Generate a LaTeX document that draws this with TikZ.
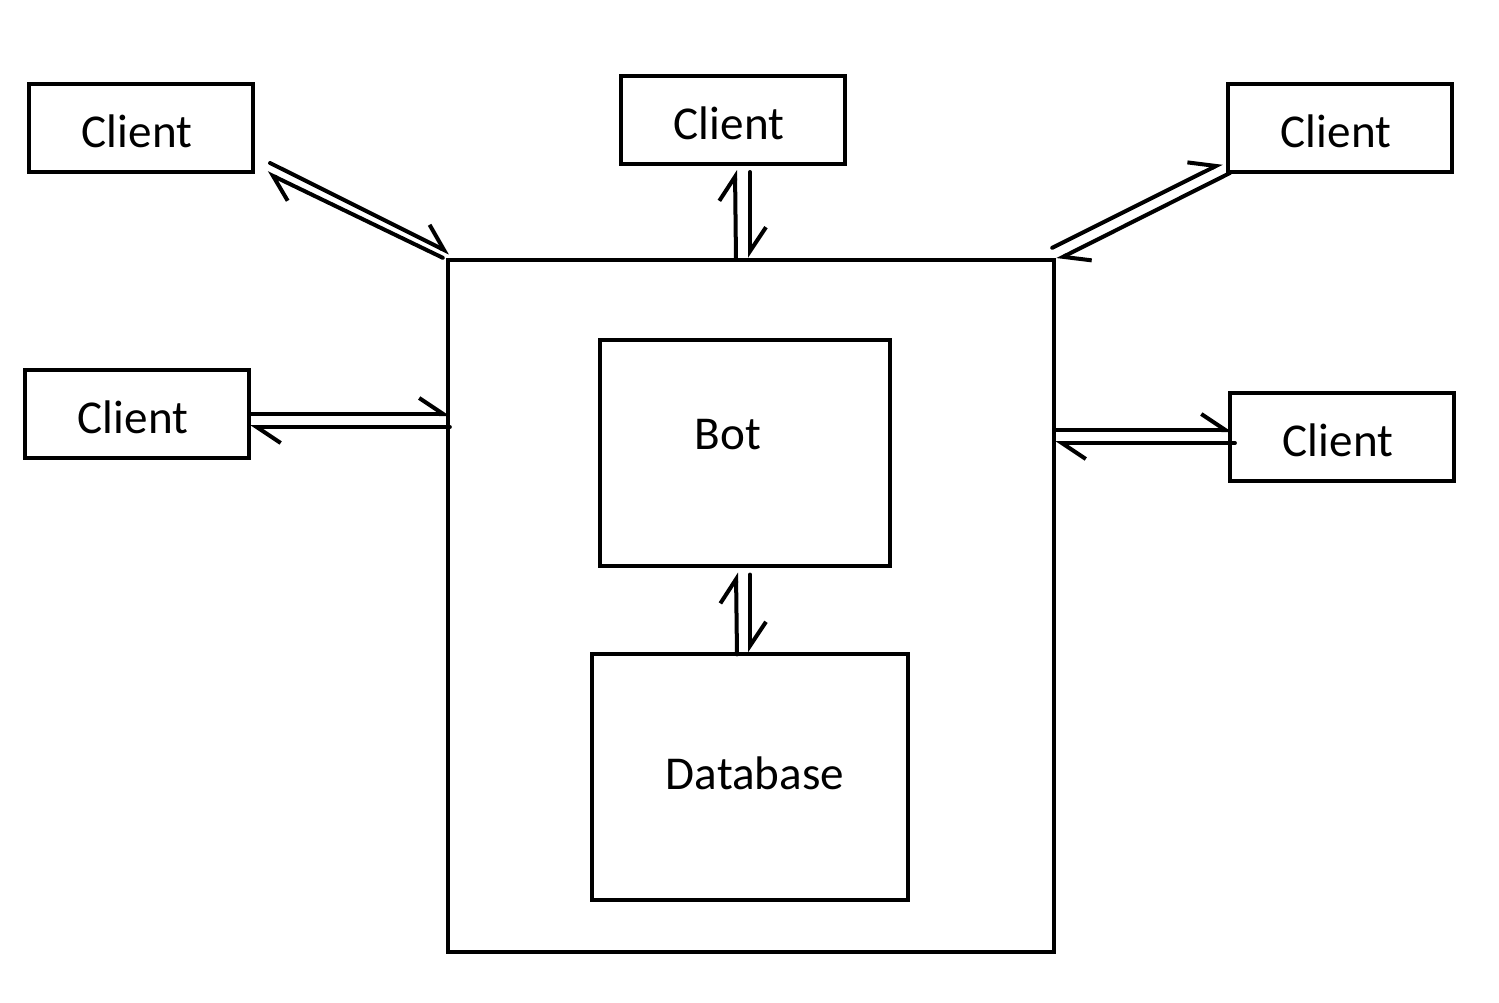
\documentclass[tikz,border=0pt]{standalone}
\usepackage{fontspec}
\setmainfont{Carlito}
\usetikzlibrary{arrows.meta,positioning,calc}

\begin{document}
\begin{tikzpicture}[x=0.01cm, y=-0.01cm,
		line width=0.04cm,
		font=\fontsize{13.4}{16}\selectfont,
		basic/.style  = {draw, rectangle, line width=0.04cm, inner sep=0pt, outer sep=0pt},
		client/.style = {basic, minimum width=2.24cm, minimum height=0.88cm},
		harp/.style   = {line cap=round, -{Straight Barb[harpoon, length=2.4mm, width=3.2mm]}}]
	
	\useasboundingbox (0,0) rectangle (1499,1003);
	
	% Server box with bot and database inside
	\node[basic, minimum width=6.06cm, minimum height=6.92cm] (srv) at (751,606) {};
	\node[basic, minimum width=2.9cm, minimum height=2.25cm,
		label={[shift={(-17,-18)}]center:Bot}] (bot) at (745,453) {};
	\node[basic, minimum width=3.16cm, minimum height=2.45cm,
		label={[shift={(5,-4)}]center:Database}] (db) at (750,777) {};
	
	% Clients around the server
	\foreach \name/\pos in {c1/{(141,128)}, c2/{(733,120)}, c3/{(1340,128)}, c4/{(137,414)}, c5/{(1342,437)}}
	\node[client, label={[shift={(-4,3)}]center:Client}] (\name) at \pos {};
	
	% Helper points on the server border
	\coordinate (t) at (c2.south |- srv.north);
	\coordinate (l) at (srv.west |- c4.east);
	\coordinate (r) at (srv.east |- c5.west);
	\coordinate (m) at (bot.south |- db.north);
	
	% Double lines, one each way
	\draw[harp] ([shift={(17,-9)}]c1.south east) -- ([shift={(2,-7)}]srv.north west);
	\draw[harp] ([shift={(-5,-2)}]srv.north west) -- ([shift={(14,1)}]c1.south east);
	
	\draw[harp] ([shift={(3,0)}]t) -- ([shift={(2,6)}]c2.south);
	\draw[harp] ([shift={(17,8)}]c2.south) -- ([shift={(17,-2)}]t);
	
	\draw[harp] ([shift={(-2,-12)}]srv.north east) -- ([shift={(-6,-9)}]c3.south west);
	\draw[harp] ([shift={(2,1)}]c3.south west) -- ([shift={(3,0)}]srv.north east);
	
	\draw[harp] (c4.east) -- ([shift={(2,0)}]l);
	\draw[harp] ([shift={(2,13)}]l) -- ([shift={(1,13)}]c4.east);
	
	\draw[harp] ([shift={(1,-7)}]r) -- ([shift={(2,-7)}]c5.west);
	\draw[harp] ([shift={(5,6)}]c5.west) -- ([shift={(1,6)}]r);
	
	\draw[harp] ([shift={(-8,0)}]m) -- ([shift={(-9,7)}]bot.south);
	\draw[harp] ([shift={(5,9)}]bot.south) -- ([shift={(5,-2)}]m);
	
\end{tikzpicture}
\end{document}
